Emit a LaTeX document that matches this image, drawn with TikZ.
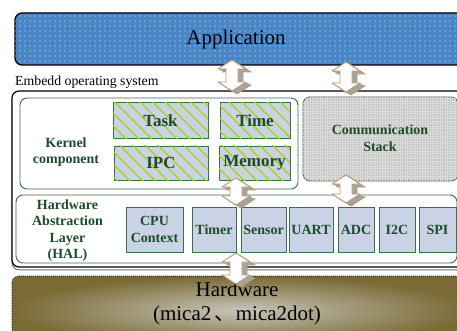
\documentclass[tikz,border=0pt]{standalone}
\usepackage{fontspec}
\setmainfont{Liberation Serif}
\newfontfamily\cjk{Noto Sans CJK SC}
\usetikzlibrary{patterns.meta}
\definecolor{appblue}{HTML}{4A86C6}
\definecolor{txtgreen}{HTML}{1F4B2C}
\definecolor{boxgreen}{HTML}{3D6B4D}
\definecolor{compfill}{HTML}{C9D3E5}
\definecolor{stripe}{HTML}{A8D400}
\definecolor{hwinner}{HTML}{C8C5BA}
\definecolor{hwouter}{HTML}{7A6A35}
\definecolor{tanc}{HTML}{BC9A6C}
\definecolor{arrgray}{HTML}{A4A4A4}
\newcommand\udshape[4]{\path[#1] ({#2},{#3}) -- ({#2+14},{#3+9}) -- ({#2+6},{#3+9}) -- ({#2+6},{#4-9}) -- ({#2+14},{#4-9}) -- ({#2},{#4}) -- ({#2-14},{#4-9}) -- ({#2-6},{#4-9}) -- ({#2-6},{#3+9}) -- ({#2-14},{#3+9}) -- cycle;}
\newcommand\udarrow[3]{%
  \foreach \s in {0.5,1,...,5}{\udshape{fill=arrgray,shift={(\s,0.6*\s)}}{#1}{#2}{#3}}
  \udshape{draw=tanc,line width=0.7pt,shift={(5,3)}}{#1}{#2}{#3}
  \udshape{draw=tanc,fill=white,line width=0.9pt,line join=round}{#1}{#2}{#3}}
\begin{document}
\begin{tikzpicture}[x=1pt,y=-1pt,
  lbl/.style={font=\bfseries\fontsize{14}{16.5}\selectfont, text=txtgreen, align=center},
  big/.style={font=\bfseries\fontsize{17}{19}\selectfont, text=txtgreen},
  comp/.style={draw=boxgreen, line width=0.8pt, fill=compfill, inner sep=0pt},
  kcomp/.style={comp, postaction={pattern={Lines[angle=-45,distance=9pt,line width=1.2pt]}, pattern color=stripe}},
  grp/.style={draw=boxgreen, line width=0.9pt, rounded corners=7pt, fill=white},
  bigtext/.style={font=\fontsize{21}{24}\selectfont, align=center},
]
\useasboundingbox (0,0) rectangle (457,331);
\clip (0,0) rectangle (457,331);
\fill[white] (0,0) rectangle (457,331);

% Application
\draw[black, line width=1.3pt, rounded corners=7pt, fill=appblue,
  postaction={pattern={Dots[distance=5pt,radius=0.6pt]}, pattern color=white!85!appblue}]
  (15,13) rectangle (470,65);
\node[bigtext, anchor=base] (app) at (236,45) {Application};

% OS label
\node[anchor=base west, font=\fontsize{13.8}{15}\selectfont, inner sep=0pt] (oslabel) at (15,86) {Embedd operating system};

% Outer OS box
\draw[black!55, line width=1pt, rounded corners=7pt, shift={(0,2.8)}] (12,91) rectangle (470,267);
\draw[black, line width=1.2pt, rounded corners=7pt, fill=white] (12,91) rectangle (470,267);

% Kernel group
\draw[grp] (20,98) rectangle (298,189);
\node[lbl] (kernel) at (66,152) {Kernel\\component};
\node[kcomp, minimum width=95pt, minimum height=36pt, big] (task) at (160.5,120.5) {Task};
\node[kcomp, minimum width=70pt, minimum height=36pt, big] (time) at (255,120.5) {Time};
\node[kcomp, minimum width=94pt, minimum height=34pt, big] (ipc) at (161,163) {IPC};
\node[kcomp, minimum width=71pt, minimum height=34pt, big] (memory) at (254.5,163) {Memory};

% Communication stack
\draw[draw=boxgreen, line width=0.9pt, rounded corners=7pt, fill=black!23,
  postaction={pattern={Hatch[distance=2.5pt,line width=0.4pt]}, pattern color=black!14}]
  (303,97) rectangle (458,181);
\node[lbl] (comm) at (380,138) {Communication\\Stack};

% HAL group
\draw[grp] (16,195) rectangle (457,263);
\node[lbl] (hal) at (67.5,230.5) {Hardware\\Abstraction\\Layer\\(HAL)};
\node[comp, minimum width=57pt, minimum height=45pt, lbl] (cpu) at (154.5,229.5) {CPU\\Context};
\node[comp, minimum width=44pt, minimum height=45pt, lbl] (timer) at (214,229.5) {Timer};
\node[comp, minimum width=45pt, minimum height=45pt, lbl] (sensor) at (263.5,229.5) {Sensor};
\node[comp, minimum width=44pt, minimum height=45pt, lbl] (uart) at (311,229.5) {UART};
\node[comp, minimum width=36pt, minimum height=45pt, lbl] (adc) at (356,229.5) {ADC};
\node[comp, minimum width=36pt, minimum height=45pt, lbl] (i2c) at (397,229.5) {I2C};
\node[comp, minimum width=37pt, minimum height=45pt, lbl] (spi) at (437.5,229.5) {SPI};

% Hardware
\shade[inner color=hwinner, outer color=hwouter, draw=black!80, densely dotted, line width=1pt, rounded corners=7pt]
  (12,276) rectangle (470,345);
\node[bigtext] (hw) at (237,303) {Hardware\\(mica2\,{\cjk 、}mica2dot)};

% Arrows
\udarrow{232}{60}{91}
\udarrow{346}{62}{92}
\udarrow{236}{178}{205}
\udarrow{346}{175}{203}
\udarrow{236}{253}{284}
\end{tikzpicture}
\end{document}
